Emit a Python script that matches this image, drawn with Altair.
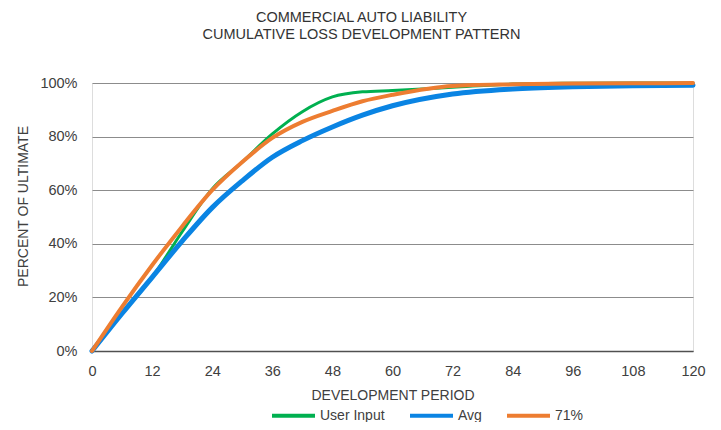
import altair as alt
import pandas as pd

months = [0, 6, 12, 18, 24, 30, 36, 42, 48, 54, 60, 72, 84, 96, 108, 120]
user_input = [0, 14.0, 27.5, 44.5, 60.5, 70.5, 81.0, 89.3, 94.8, 96.7, 97.2, 98.4, 99.6, 99.9, 100.0, 100.0]
avg = [0, 14.0, 27.5, 41.0, 53.5, 63.5, 72.3, 78.5, 83.6, 88.0, 91.5, 95.9, 97.8, 98.6, 99.0, 99.2]
pct71 = [0, 16.5, 32.0, 46.5, 60.0, 70.5, 79.5, 85.5, 89.6, 93.2, 95.6, 98.9, 99.5, 99.8, 99.9, 100.0]

series_names = ["User Input", "Avg", "71%"]
series_colors = ["#00B050", "#0A84E3", "#ED7D31"]
series_widths = [3, 5, 4]
x_ticks = [0, 12, 24, 36, 48, 60, 72, 84, 96, 108, 120]
y_ticks = [0, 20, 40, 60, 80, 100]

rows = []
for name, vals in zip(series_names, [user_input, avg, pct71]):
    for m, v in zip(months, vals):
        rows.append({"month": m, "value": v, "series": name})
df = pd.DataFrame(rows)

FONT = "Liberation Sans"
TXT = "#404040"

x_enc = alt.X(
    "month:Q",
    scale=alt.Scale(domain=[0, 120], nice=False, zero=True),
    axis=alt.Axis(
        values=x_ticks,
        title="DEVELOPMENT PERIOD",
        grid=False,
        ticks=False,
        domain=True,
        domainColor="#505050",
        domainWidth=1.5,
        labelFont=FONT,
        labelFontSize=14.5,
        labelColor=TXT,
        labelPadding=13,
        labelFlush=False,
        titleFont=FONT,
        titleFontSize=14,
        titleFontWeight="normal",
        titleColor=TXT,
        titleX=300.5,
        titleY=44,
        titleBaseline="middle",
    ),
)
y_enc = alt.Y(
    "value:Q",
    scale=alt.Scale(domain=[0, 100], nice=False),
    axis=alt.Axis(
        values=y_ticks,
        labelExpr="datum.value + '%'",
        title="PERCENT OF ULTIMATE",
        grid=True,
        gridColor="#8c8c8c",
        gridWidth=1,
        ticks=False,
        domain=False,
        labelFont=FONT,
        labelFontSize=14.5,
        labelColor=TXT,
        labelPadding=15,
        titleFont=FONT,
        titleFontSize=14,
        titleFontWeight="normal",
        titleColor=TXT,
        titleX=-69,
        titleY=123,
        titleAngle=270,
        titleBaseline="middle",
        titleAlign="center",
    ),
)
color_enc = alt.Color(
    "series:N",
    scale=alt.Scale(domain=series_names, range=series_colors),
    legend=alt.Legend(
        title=None,
        orient="none",
        direction="horizontal",
        legendX=178,
        legendY=309,
        symbolType="stroke",
        symbolSize=1849,
        symbolStrokeWidth=4,
        labelFont=FONT,
        labelFontSize=14,
        labelColor=TXT,
        labelOffset=3,
        columnPadding=17,
        padding=0,
    ),
)

layers = []
for name, w in zip(series_names, series_widths):
    layers.append(
        alt.Chart(df)
        .transform_filter(alt.datum.series == name)
        .mark_line(interpolate="monotone", strokeWidth=w, strokeCap="round")
        .encode(x=x_enc, y=y_enc, color=color_enc)
    )

chart = (
    alt.layer(*layers)
    .properties(
        width=601,
        height=268,
        title=alt.TitleParams(
            text=["COMMERCIAL AUTO LIABILITY", "CUMULATIVE LOSS DEVELOPMENT PATTERN"],
            font=FONT,
            fontSize=14.5,
            fontWeight="normal",
            color="#333333",
            anchor="middle",
            dx=-31,
            offset=19,
            lineHeight=17,
            baseline="bottom",
        ),
        autosize=alt.AutoSizeParams(type="none"),
        padding={"left": 84, "top": 75, "right": 20, "bottom": 71},
    )
    .configure_view(stroke=None)
    .configure(background="white")
)

chart.save("out.html", embed_options={"renderer": "svg", "actions": False})
